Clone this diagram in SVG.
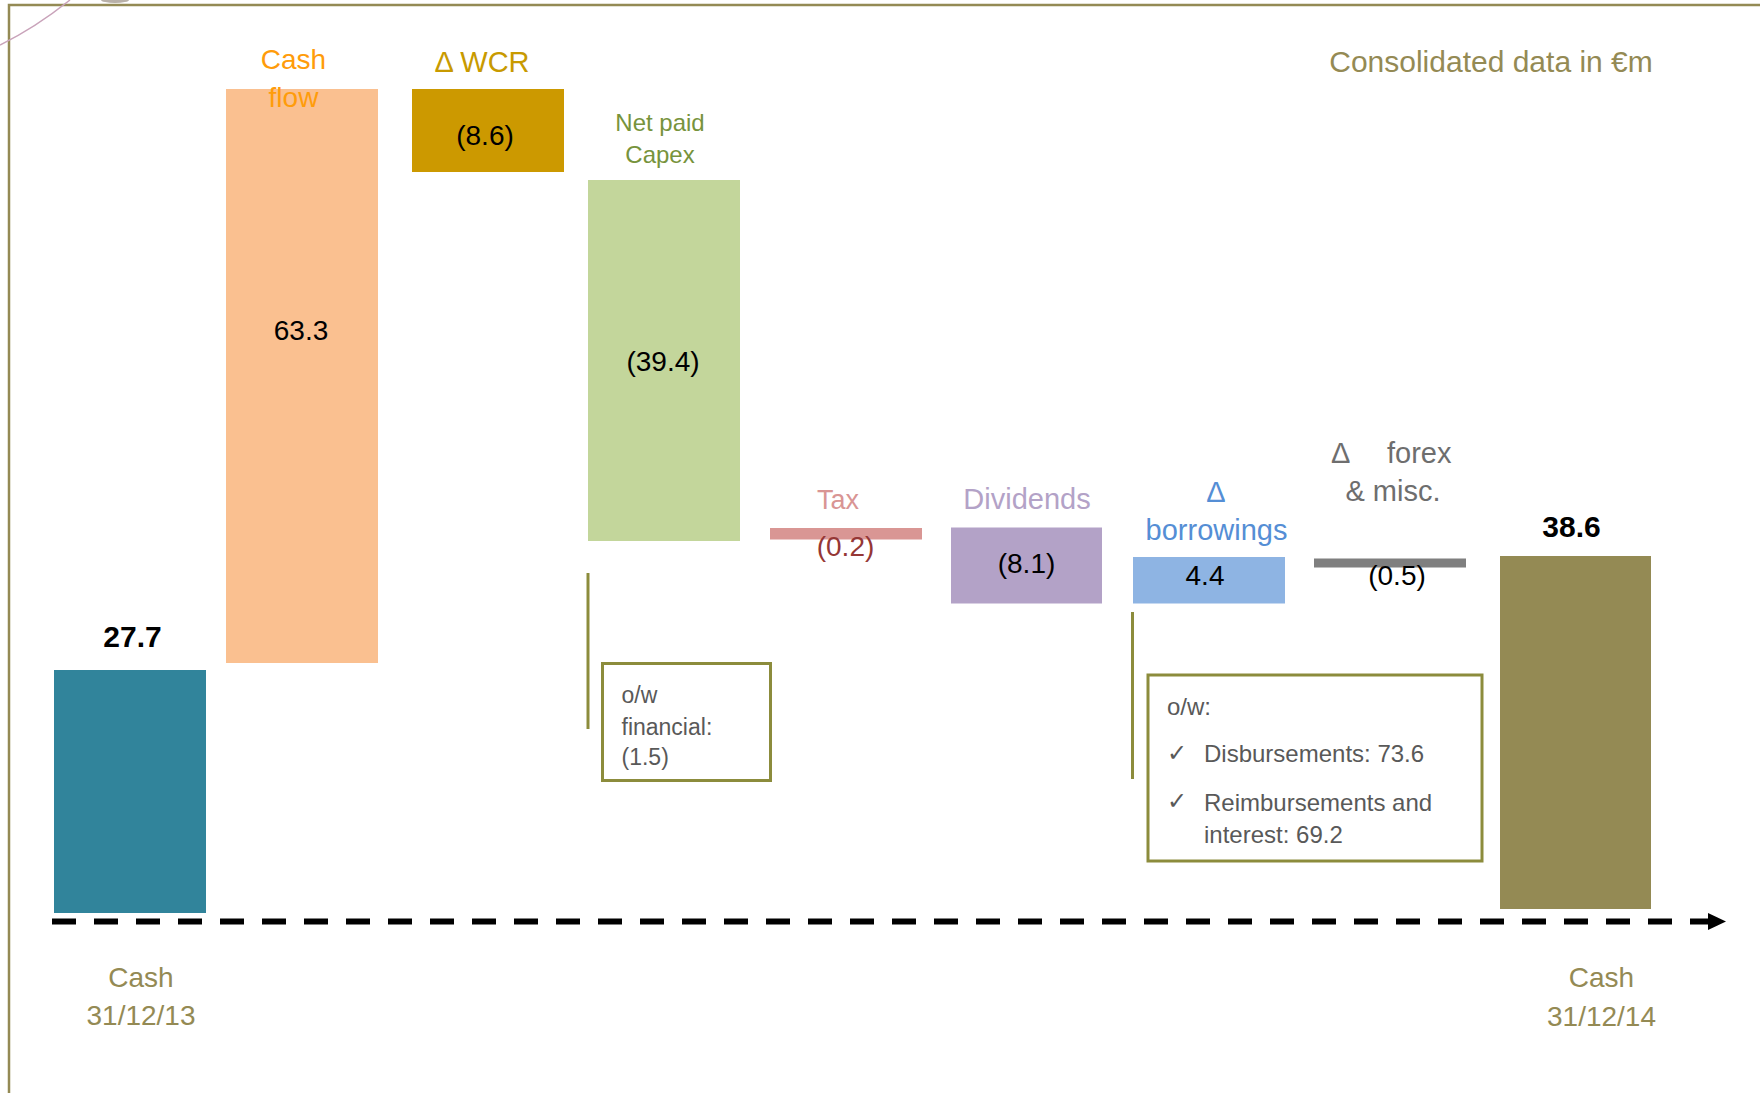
<svg xmlns="http://www.w3.org/2000/svg" width="1760" height="1093" viewBox="0 0 1760 1093">
<defs>
<style>
text{font-family:"Liberation Sans",Arial,sans-serif}
.lbl{font-size:29px;text-anchor:middle}
.val{font-size:28px;text-anchor:middle;fill:#000}
.tot{font-size:30px;font-weight:bold;text-anchor:middle;fill:#000}
.date{font-size:28px;text-anchor:middle;fill:#948A54}
.note{font-size:23px;fill:#595959}
.note2{font-size:24px;fill:#595959}
.chk{font-family:"DejaVu Sans",sans-serif;font-size:24px;fill:#595959}
.box{fill:none;stroke:#8C8C3C;stroke-width:3}
.lead{stroke:#8C8C3C;stroke-width:3;fill:none}
</style>
<marker id="arrow" markerUnits="userSpaceOnUse" markerWidth="18" markerHeight="18" refX="0" refY="8.5" orient="auto" viewBox="0 0 18 17">
<path d="M0,0 L18,8.5 L0,17 z" fill="#000"/>
</marker>
</defs>
<rect width="1760" height="1093" fill="#fff"/>
<!-- frame and decoration -->
<rect x="9" y="5" width="1800" height="1200" fill="none" stroke="#948A54" stroke-width="2.5"/>
<path d="M0,45 Q35,28 70,0" fill="none" stroke="#C9A3BA" stroke-width="1.5"/>
<ellipse cx="115" cy="0" rx="14" ry="3" fill="#B8B0A8"/>

<g id="title">
<text x="1491" y="72" style="font-size:30px;text-anchor:middle;fill:#948A54">Consolidated data in €m</text>
</g>

<g id="connectors">
<line x1="52" y1="921.5" x2="1708" y2="921.5" stroke="#000" stroke-width="6" stroke-dasharray="24 18" marker-end="url(#arrow)"/>
<line class="lead" x1="588" y1="573" x2="588" y2="729"/>
<line class="lead" x1="1132.5" y1="612" x2="1132.5" y2="779"/>
</g>

<g id="cash-2013">
<rect x="54" y="670" width="152" height="243" fill="#31849B"/>
<text class="tot" x="132.5" y="647">27.7</text>
<text class="date" x="141" y="987">Cash</text>
<text class="date" x="141" y="1025">31/12/13</text>
</g>

<g id="cash-flow">
<rect x="226" y="89" width="152" height="574" fill="#FAC090"/>
<text class="lbl" x="293.5" y="69" fill="#FF9C0A" style="font-size:28px">Cash</text>
<text class="lbl" x="293.5" y="107" fill="#FF9C0A" style="font-size:28px">flow</text>
<text class="val" x="301" y="340">63.3</text>
</g>

<g id="delta-wcr">
<rect x="412" y="89" width="152" height="83" fill="#CC9900"/>
<text class="lbl" x="482" y="72" fill="#C89A00">Δ WCR</text>
<text class="val" x="485" y="145">(8.6)</text>
</g>

<g id="net-paid-capex">
<rect x="588" y="180" width="152" height="361" fill="#C3D69B"/>
<text x="660" y="131" style="font-size:24px;text-anchor:middle;fill:#77933C">Net paid</text>
<text x="660" y="163" style="font-size:24px;text-anchor:middle;fill:#77933C">Capex</text>
<text class="val" x="663" y="371">(39.4)</text>
</g>

<g id="capex-note">
<rect class="box" x="602.5" y="663.5" width="168" height="117"/>
<text class="note" x="621.5" y="703">o/w</text>
<text class="note" x="621.5" y="735">financial:</text>
<text class="note" x="621.5" y="765">(1.5)</text>
</g>

<g id="tax">
<rect x="770" y="528" width="152" height="11.5" fill="#D99694"/>
<text class="lbl" x="838" y="509" fill="#D99594" style="font-size:27px">Tax</text>
<text class="val" x="845.5" y="556" style="fill:#953735">(0.2)</text>
</g>

<g id="dividends">
<rect x="951" y="527.5" width="151" height="76" fill="#B3A2C7"/>
<text class="lbl" x="1027" y="509" fill="#B3A2C7">Dividends</text>
<text class="val" x="1026.5" y="573">(8.1)</text>
</g>

<g id="delta-borrowings">
<rect x="1133" y="557" width="152" height="46.5" fill="#8EB4E3"/>
<text class="lbl" x="1216" y="502" fill="#558ED5">Δ</text>
<text class="lbl" x="1216.5" y="540" fill="#558ED5">borrowings</text>
<text class="val" x="1205" y="585">4.4</text>
</g>

<g id="borrowings-note">
<rect class="box" x="1148" y="675" width="334" height="186"/>
<text class="note2" x="1167" y="715">o/w:</text>
<text class="chk" x="1167" y="761">✓</text>
<text class="note2" x="1204" y="762">Disbursements: 73.6</text>
<text class="chk" x="1167" y="809">✓</text>
<text class="note2" x="1204" y="811">Reimbursements and</text>
<text class="note2" x="1204" y="843">interest: 69.2</text>
</g>

<g id="delta-forex">
<rect x="1314" y="558.5" width="152" height="9" fill="#7F7F7F"/>
<text style="font-size:29px;fill:#6E6E6E"><tspan x="1331" y="463">Δ</tspan><tspan x="1387" y="463">forex</tspan></text>
<text class="lbl" x="1393" y="501" fill="#6E6E6E">&amp; misc.</text>
<text class="val" x="1397" y="585">(0.5)</text>
</g>

<g id="cash-2014">
<rect x="1500" y="556" width="151" height="353" fill="#948A54"/>
<text class="tot" x="1571.5" y="537">38.6</text>
<text class="date" x="1601.5" y="987">Cash</text>
<text class="date" x="1601.5" y="1026">31/12/14</text>
</g>
</svg>
